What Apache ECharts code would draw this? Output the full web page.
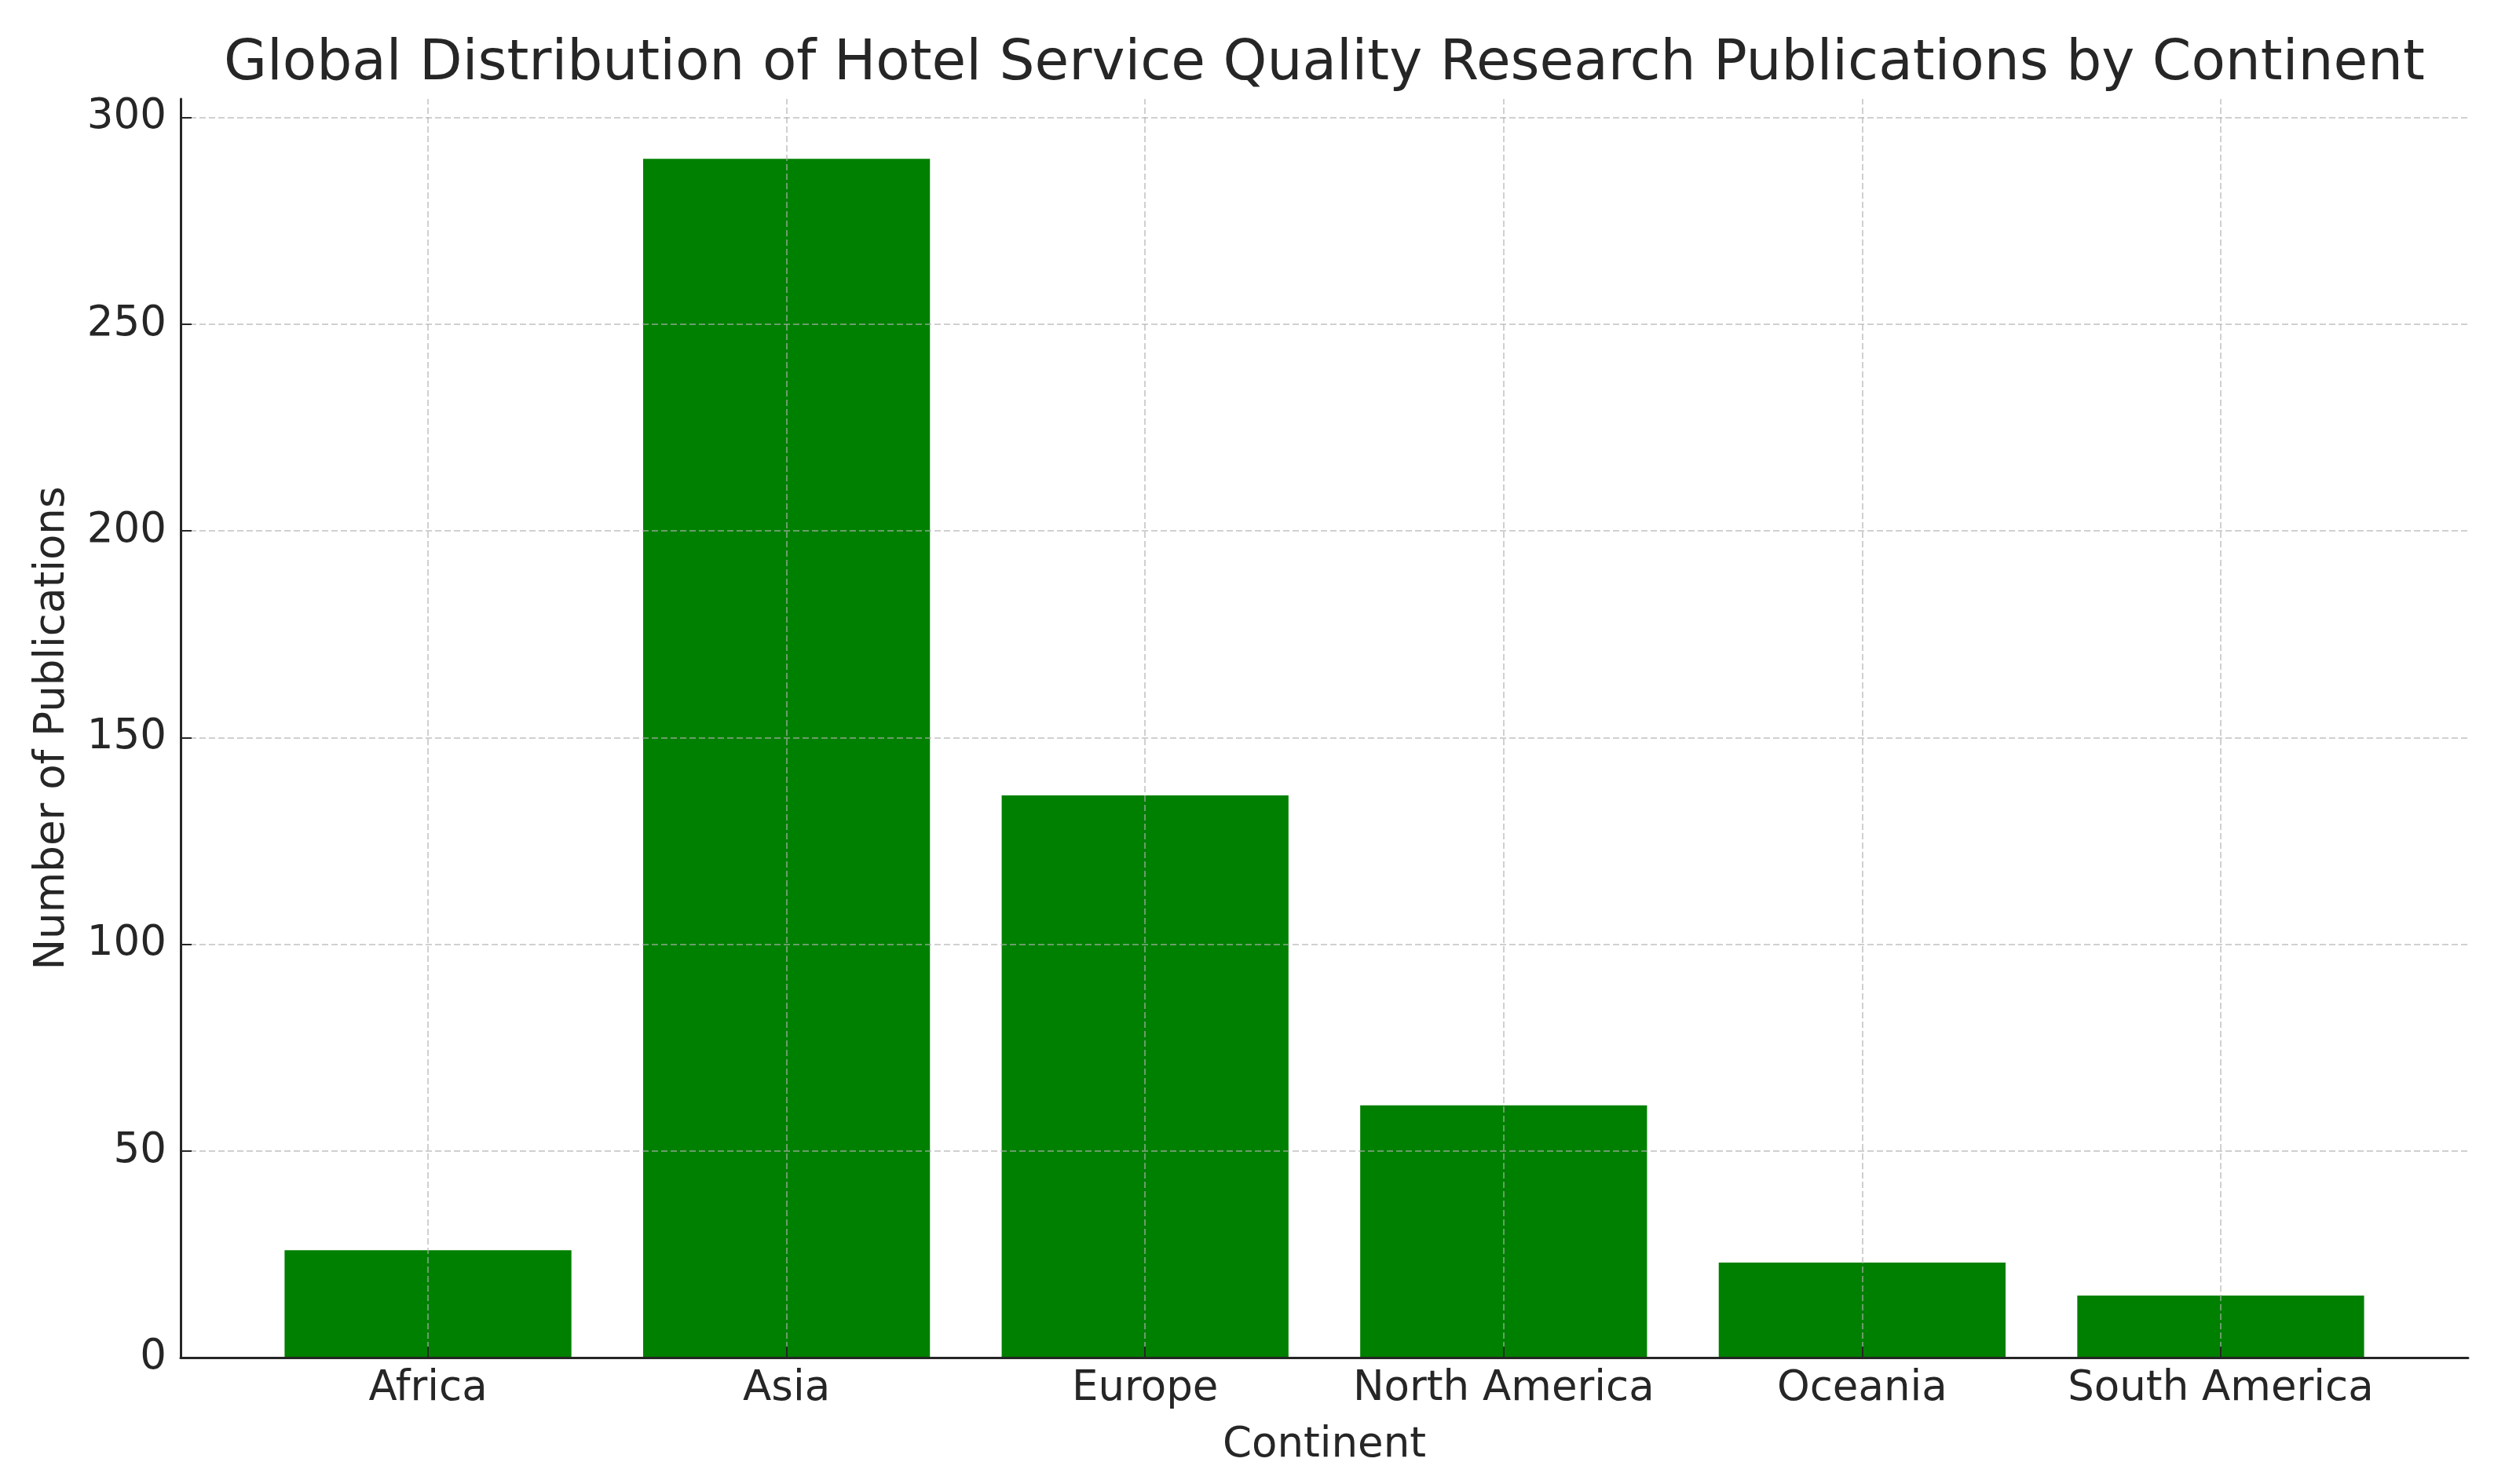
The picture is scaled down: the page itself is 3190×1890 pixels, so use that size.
<!DOCTYPE html>
<html>
<head>
<meta charset="utf-8">
<script src="https://cdn.jsdelivr.net/npm/echarts@6/dist/echarts.min.js"></script>
<style>
html,body{margin:0;padding:0;background:#fff;}
#chart{width:3190px;height:1890px;}
</style>
</head>
<body>
<div id="chart"></div>
<script>
// ---- data ----
const chartTitle = 'Global Distribution of Hotel Service Quality Research Publications by Continent';
const categories = ['Africa', 'Asia', 'Europe', 'North America', 'Oceania', 'South America'];
const publications = [26, 290, 136, 61, 23, 15];
const yTickMin = 0;
const yTickMax = 300;
const yTickStep = 50;
const xAxisTitle = 'Continent';
const yAxisTitle = 'Number of Publications';

// ---- style ----
const FONT = 'DejaVu Sans';
const TEXT = '#262626';
const GRIDC = 'rgba(176,176,176,0.6)';
const yLimitTop = 304.5;   // matplotlib auto margin above tallest bar

const plotTop = 126, plotBottomPx = 1729, plotLeft = 230, plotRightPx = 3143;
const H = 1890, W = 3190;
const bottom = H - plotBottomPx;
const right = W - plotRightPx;
const pxPerUnit = (plotBottomPx - plotTop) / yLimitTop;
const tickTop = plotBottomPx - yTickMax * pxPerUnit;
// x: data span -0.69 .. 5.69 (bars width 0.8, 5% margins)
const xPad = 0.19;
const unitX = (plotRightPx - plotLeft) / (categories.length - 1 + 0.8 + 2 * 0.29);
const bandLeft = plotLeft + xPad * unitX;
const bandRight = W - (plotRightPx - xPad * unitX);

const chart = echarts.init(document.getElementById('chart'), null, {renderer: 'canvas'});
chart.setOption({
  backgroundColor: '#ffffff',
  animation: false,
  textStyle: {fontFamily: FONT, color: TEXT},
  graphic: [{
    type: 'text',
    x: (plotLeft + plotRightPx) / 2,
    y: 83,
    style: {
      text: chartTitle,
      font: '71px "DejaVu Sans"',
      fill: TEXT,
      align: 'center',
      verticalAlign: 'middle'
    }
  }],
  grid: [
    {left: plotLeft, right: right, top: plotTop, bottom: bottom, containLabel: false},
    {left: plotLeft, right: right, top: tickTop, bottom: bottom, containLabel: false},
    {left: bandLeft, right: bandRight, top: plotTop, bottom: bottom, containLabel: false}
  ],
  xAxis: [
    {
      gridIndex: 0, type: 'value', min: 0, max: 1, z: 10,
      axisLine: {show: true, lineStyle: {color: TEXT, width: 3}},
      axisTick: {show: false}, axisLabel: {show: false}, splitLine: {show: false},
      name: xAxisTitle, nameLocation: 'middle', nameGap: 86,
      nameTextStyle: {fontFamily: FONT, fontSize: 53, color: TEXT}
    },
    {
      gridIndex: 1, type: 'value', min: 0, max: 1, show: false
    },
    {
      gridIndex: 2, type: 'category', data: categories, z: 10,
      boundaryGap: true,
      axisLine: {show: false},
      axisTick: {show: true, alignWithLabel: true, inside: true, length: 14, lineStyle: {color: TEXT, width: 2}},
      axisLabel: {fontFamily: FONT, fontSize: 53, color: TEXT, margin: 14, interval: 0},
      splitLine: {show: false}
    }
  ],
  yAxis: [
    {
      gridIndex: 0, type: 'value', min: 0, max: yLimitTop, z: 10,
      axisLine: {show: true, lineStyle: {color: TEXT, width: 3}},
      axisTick: {show: false}, axisLabel: {show: false}, splitLine: {show: false},
      name: yAxisTitle, nameLocation: 'middle', nameGap: 136, nameRotate: 90,
      nameTextStyle: {fontFamily: FONT, fontSize: 53, color: TEXT}
    },
    {
      gridIndex: 1, type: 'value', min: yTickMin, max: yTickMax, interval: yTickStep, z: 10,
      axisLine: {show: false},
      axisTick: {show: true, inside: true, length: 14, lineStyle: {color: TEXT, width: 2}},
      axisLabel: {fontFamily: FONT, fontSize: 53, color: TEXT, margin: 18},
      splitLine: {show: true, lineStyle: {color: GRIDC, width: 2, type: [8, 4]}}
    },
    {
      gridIndex: 2, type: 'value', min: 0, max: yLimitTop, show: false
    }
  ],
  series: [{
    type: 'bar',
    xAxisIndex: 2, yAxisIndex: 2,
    data: publications,
    barWidth: '80%',
    itemStyle: {color: '#008000'},
    z: 2,
    markLine: {
      silent: true,
      symbol: ['none', 'none'],
      label: {show: false},
      z: 8,
      lineStyle: {color: GRIDC, width: 2, type: [8, 4]},
      data: categories.map(c => ({xAxis: c}))
    }
  }]
});
</script>
</body>
</html>
